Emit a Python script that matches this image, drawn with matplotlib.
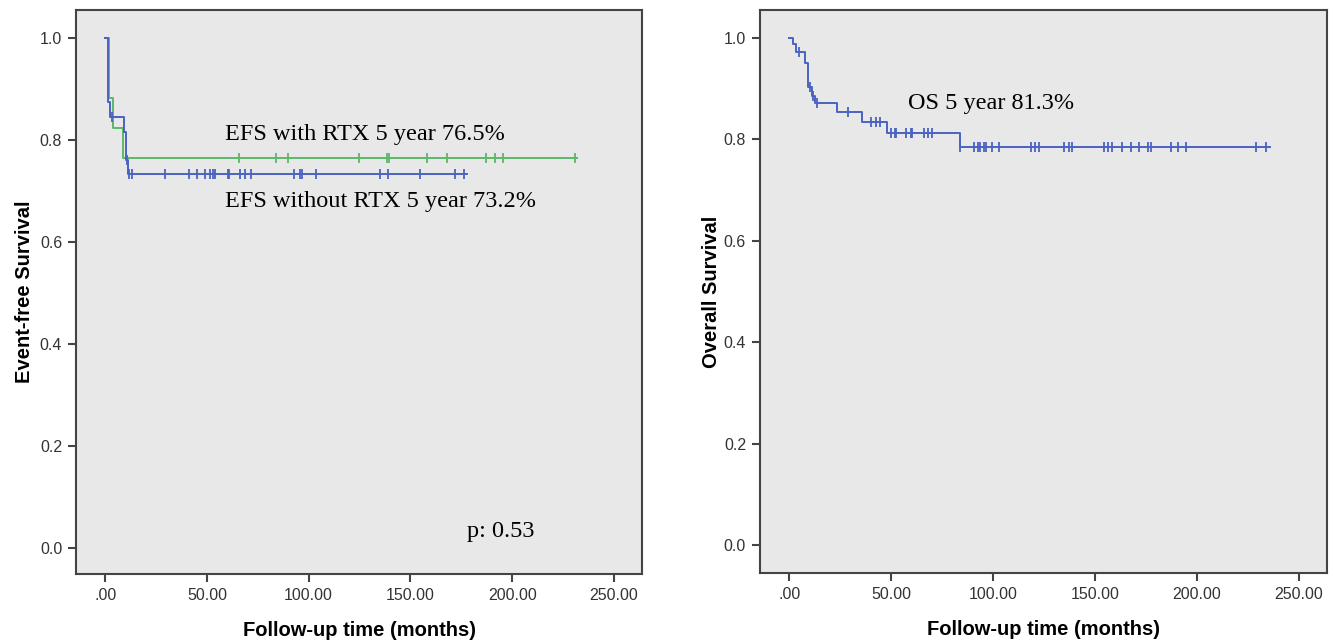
import numpy as np
import matplotlib.pyplot as plt

# EFS, with RTX (green)
rtx_times = [0, 2.0, 3.8, 9.0]
rtx_surv = [1.0, 0.882, 0.824, 0.765]
rtx_end = 232
rtx_censor = [66, 84, 90, 124.5, 138.5, 139.5, 158, 168, 187, 191.5, 195.5, 231]

# EFS, without RTX (blue)
norx_times = [0, 1.2, 2.4, 9.2, 10.2, 11.2]
norx_surv = [1.0, 0.875, 0.846, 0.816, 0.762, 0.733]
norx_end = 178
norx_censor = [3.5, 10.6, 11.6, 13.1, 29.6, 41, 45, 49, 51.7, 52.8, 54, 60.2, 61,
               66.4, 68.6, 71.7, 93, 95.6, 96.8, 103.6, 134.8, 139, 154.7, 171.8, 176.3]

# OS (blue)
os_times = [0, 2.0, 3.5, 7.8, 9.2, 9.5, 11.3, 12.5, 23.7, 35.6, 48.2, 83.7]
os_surv = [1.0, 0.988, 0.971, 0.951, 0.936, 0.902, 0.886, 0.871, 0.853, 0.833, 0.812, 0.785]
os_end = 236
os_censor = [4.6, 10.4, 11.7, 13.6, 29, 40, 42.5, 44.8, 49.8, 52, 52.6, 57.2, 59.6, 60.5,
             66.2, 68.3, 70.3, 84, 90.7, 92.5, 93.5, 95.5, 96.5, 99.3, 103, 118.4, 120.8,
             122.6, 135, 137.5, 138.8, 154.3, 156.3, 158.4, 163.5, 167.6, 171.7, 176.2,
             177.5, 187.1, 190.6, 194.7, 229, 234]

x_ticks = [0, 50, 100, 150, 200, 250]
x_ticklabels = ['.00', '50.00', '100.00', '150.00', '200.00', '250.00']
y_ticks = [0.0, 0.2, 0.4, 0.6, 0.8, 1.0]

GREEN = '#5cb86a'
BLUE = '#4a62c0'
FRAME = '#444444'
SANS = 'Liberation Sans'
SERIF = 'Liberation Serif'


def km_curve(ax, times, surv, end, censor, color):
    t = np.append(times, end)
    s = np.append(surv, surv[-1])
    ax.step(t, s, where='post', color=color, lw=1.4)
    # censor marks sit on the curve level at that time
    idx = np.searchsorted(times, censor, side='right') - 1
    ax.plot(censor, np.asarray(surv)[idx], linestyle='none', marker='|',
            markersize=6.5, mew=1.3, color=color)


def style_axes(ax, ylabel, ylim, ypad):
    ax.set_facecolor('#e8e8e8')
    ax.set_xlim(-14.3, 263.8)
    ax.set_ylim(*ylim)
    ax.set_xticks(x_ticks)
    ax.set_xticklabels(x_ticklabels)
    ax.set_yticks(y_ticks)
    ax.set_yticklabels([f'{v:.1f}' for v in y_ticks])
    for sp in ax.spines.values():
        sp.set_color(FRAME)
        sp.set_linewidth(1.5)
    ax.tick_params(direction='out', length=6, width=1.5, color=FRAME,
                   labelsize=11.5, labelcolor='#333333', pad=4)
    for lab in ax.get_xticklabels() + ax.get_yticklabels():
        lab.set_family(SANS)
    ax.set_xlabel('Follow-up time (months)', fontsize=14.5, fontweight='bold',
                  family=SANS, labelpad=13)
    ax.set_ylabel(ylabel, fontsize=14.5, fontweight='bold', family=SANS, labelpad=ypad)


fig = plt.figure(figsize=(13.34, 6.41), dpi=100)
ax1 = fig.add_axes([0.057, 0.1045, 0.4243, 0.880])
ax2 = fig.add_axes([0.5697, 0.106, 0.425, 0.878])

km_curve(ax1, rtx_times, rtx_surv, rtx_end, rtx_censor, GREEN)
km_curve(ax1, norx_times, norx_surv, norx_end, norx_censor, BLUE)
style_axes(ax1, 'Event-free Survival', (-0.051, 1.0555), 4)
ax1.text(59, 0.800, 'EFS with RTX 5 year 76.5%', family=SERIF, fontsize=17.5)
ax1.text(59, 0.669, 'EFS without RTX 5 year 73.2%', family=SERIF, fontsize=17.5)
ax1.text(178, 0.0216, 'p: 0.53', family=SERIF, fontsize=17.5)

km_curve(ax2, os_times, os_surv, os_end, os_censor, BLUE)
style_axes(ax2, 'Overall Survival', (-0.055, 1.054), 2)
ax2.text(58.5, 0.860, 'OS 5 year 81.3%', family=SERIF, fontsize=17.5)

fig.savefig('out.png', dpi=100, facecolor='white')
